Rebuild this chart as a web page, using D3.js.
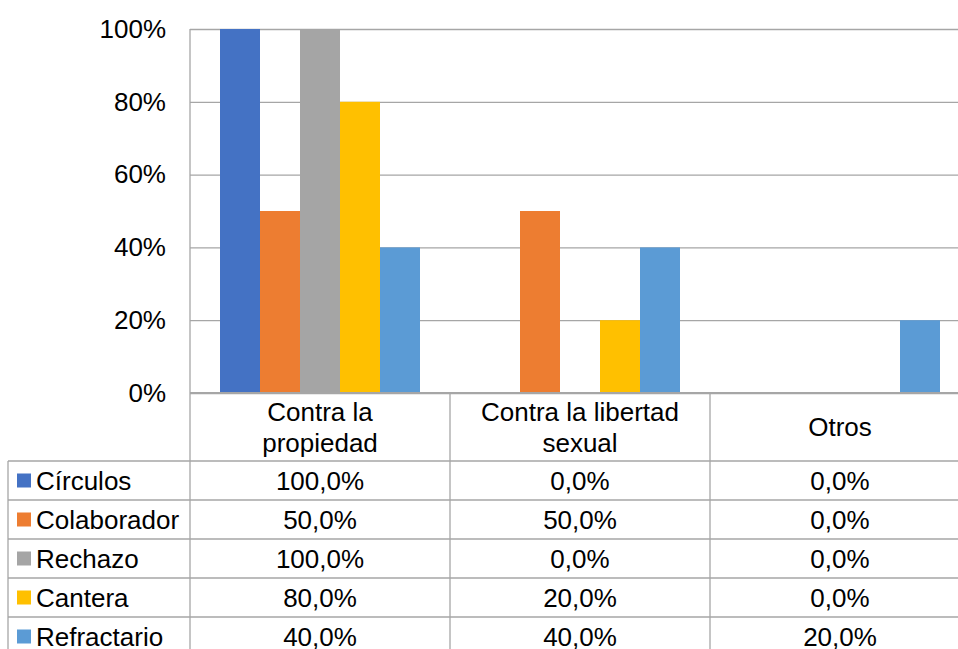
<!DOCTYPE html>
<html lang="es">
<head>
<meta charset="UTF-8" />
<title>Delitos por grupo</title>
<script src="https://cdn.jsdelivr.net/npm/d3@7"></script>
<style>
  body { margin: 0; background: #fff; }
  text { font-family: Arial, "Liberation Sans", sans-serif; fill: #000; }
</style>
</head>
<body>
<div id="chart"></div>
<script>
// data
const categories = [["Contra la", "propiedad"], ["Contra la libertad", "sexual"], ["Otros"]];
const series = ["Círculos", "Colaborador", "Rechazo", "Cantera", "Refractario"];
const values = [
  [1.00, 0.00, 0.00],
  [0.50, 0.50, 0.00],
  [1.00, 0.00, 0.00],
  [0.80, 0.20, 0.00],
  [0.40, 0.40, 0.20]
];
const yTicks = [0, 0.2, 0.4, 0.6, 0.8, 1];
const colors = ["#4472C4", "#ED7D31", "#A5A5A5", "#FFC000", "#5B9BD5"];

const W = 958, H = 649;
const plotL = 190, plotR = 970, plotT = 29, plotB = 393;
const headH = 68, rowH = 39, tableLeft = 8;
const gridColor = "#a6a6a6";
const fs = "26px";

const svg = d3.select("#chart").append("svg")
  .attr("width", W).attr("height", H);

const catIdx = categories.map((d, i) => i);
const x = d3.scaleBand().domain(catIdx).range([plotL, plotR]);
const xs = d3.scaleBand().domain(series).range([0, x.bandwidth()]).paddingOuter(0.75);
const y = d3.scaleLinear().domain([0, 1]).range([plotB, plotT]);

// gridlines + y labels
const yAxis = svg.append("g")
  .attr("transform", `translate(${plotL},0)`)
  .call(d3.axisLeft(y).tickValues(yTicks).tickFormat(d3.format(".0%"))
    .tickSize(-(plotR - plotL)).tickPadding(24));
yAxis.select(".domain").remove();
yAxis.selectAll(".tick line").attr("stroke", gridColor).attr("stroke-width", 1.3);
yAxis.selectAll(".tick text").style("font-size", fs).style("font-family", "Arial, 'Liberation Sans', sans-serif").attr("fill", "#000");

// bars
svg.append("g").selectAll("g")
  .data(series)
  .join("g")
  .attr("fill", (d, i) => colors[i])
  .selectAll("rect")
  .data((s, si) => values[si].map((v, ci) => ({ s, ci, v })))
  .join("rect")
  .attr("x", d => x(d.ci) + xs(d.s))
  .attr("y", d => y(d.v))
  .attr("width", xs.bandwidth())
  .attr("height", d => y(0) - y(d.v));

// left axis line
svg.append("line")
  .attr("x1", plotL).attr("x2", plotL).attr("y1", plotT).attr("y2", plotB)
  .attr("stroke", gridColor).attr("stroke-width", 1.3);

// data table
const tbl = svg.append("g");
const tableTop = plotB + headH;
const nRows = series.length;
// horizontal lines
tbl.append("line").attr("x1", plotL).attr("x2", plotR).attr("y1", plotB).attr("y2", plotB)
  .attr("stroke", gridColor).attr("stroke-width", 2);
d3.range(nRows + 1).forEach(r => {
  tbl.append("line")
    .attr("x1", tableLeft).attr("x2", plotR)
    .attr("y1", tableTop + r * rowH).attr("y2", tableTop + r * rowH)
    .attr("stroke", gridColor).attr("stroke-width", 1.3);
});
// vertical lines
catIdx.concat([categories.length]).forEach(ci => {
  const xx = ci < categories.length ? x(ci) : plotR;
  tbl.append("line")
    .attr("x1", xx).attr("x2", xx).attr("y1", plotB).attr("y2", tableTop + nRows * rowH)
    .attr("stroke", gridColor).attr("stroke-width", 1.3);
});
tbl.append("line")
  .attr("x1", tableLeft).attr("x2", tableLeft).attr("y1", tableTop).attr("y2", tableTop + nRows * rowH)
  .attr("stroke", gridColor).attr("stroke-width", 1.3);

// header labels
categories.forEach((lines, ci) => {
  const cx = x(ci) + x.bandwidth() / 2;
  const n = lines.length;
  lines.forEach((t, li) => {
    tbl.append("text")
      .attr("x", cx)
      .attr("y", plotB + headH / 2 + (li - (n - 1) / 2) * 31 + 9)
      .attr("text-anchor", "middle")
      .style("font-size", fs)
      .text(t);
  });
});

// rows
const es = d3.formatLocale({ decimal: ",", thousands: ".", grouping: [3], currency: ["", "€"] });
const fmt = es.format(".1%");
series.forEach((s, si) => {
  const ry = tableTop + si * rowH;
  tbl.append("rect")
    .attr("x", 17).attr("y", ry + rowH / 2 - 7)
    .attr("width", 14).attr("height", 14)
    .attr("fill", colors[si]);
  tbl.append("text")
    .attr("x", 36).attr("y", ry + rowH / 2 + 9)
    .style("font-size", fs)
    .text(s);
  values[si].forEach((v, ci) => {
    tbl.append("text")
      .attr("x", x(ci) + x.bandwidth() / 2)
      .attr("y", ry + rowH / 2 + 9)
      .attr("text-anchor", "middle")
      .style("font-size", fs)
      .text(fmt(v));
  });
});
</script>
</body>
</html>
